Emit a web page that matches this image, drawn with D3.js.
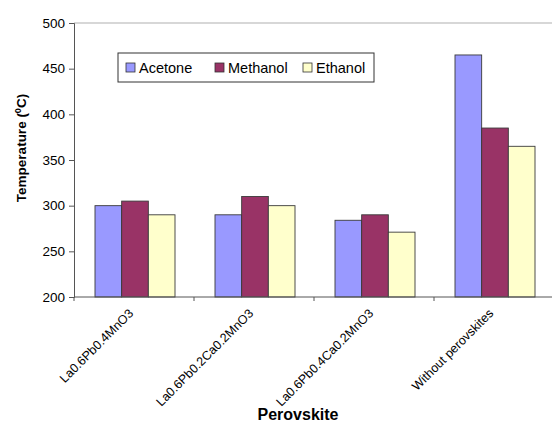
<!DOCTYPE html>
<html>
<head>
<meta charset="utf-8">
<script src="https://cdn.jsdelivr.net/npm/d3@7"></script>
<style>
  body { margin: 0; background: #fff; }
  text { font-family: "Liberation Sans", Arial, sans-serif; fill: #000; }
</style>
</head>
<body>
<script>
// values
let categories = ["La0.6Pb0.4MnO3", "La0.6Pb0.2Ca0.2MnO3", "La0.6Pb0.4Ca0.2MnO3", "Without perovskites"];
let seriesNames = ["Acetone", "Methanol", "Ethanol"];
let acetone = [300, 290, 284, 465];
let methanol = [305, 310, 290, 385];
let ethanol = [290, 300, 271, 365];
let yTicks = [200, 250, 300, 350, 400, 450, 500];
let colors = ["#9999ff", "#993366", "#ffffcc"];

let seriesValues = [acetone, methanol, ethanol];

let margin = null, width = null, height = null;
let svg = null;
let x0, x1, y = null;

setupCanvasSize();
appendSvg("body");
setupScales();
appendTopLine();
appendChartBars();
appendXAxis();
appendYAxis();
appendTitles();
appendLegend();

function setupCanvasSize() {
  margin = {top: 23, left: 74, bottom: 127, right: -2};
  width = 552 - margin.left - margin.right;
  height = 424 - margin.top - margin.bottom;
}

function appendSvg(domElement) {
  svg = d3.select(domElement).append("svg")
    .attr("width", 552)
    .attr("height", 424)
    .append("g")
    .attr("transform", `translate(${margin.left}, ${margin.top})`);
}

function setupScales() {
  x0 = d3.scaleBand().range([0, width]).domain(categories);
  x1 = d3.scaleBand().range([21, x0.bandwidth() - 19]).domain(seriesNames);
  y = d3.scaleLinear().range([height, 0]).domain([200, 500]);
}

function appendTopLine() {
  svg.append("line")
    .attr("x1", 0).attr("x2", width)
    .attr("y1", y(500)).attr("y2", y(500))
    .attr("stroke", "#b0b0b0").attr("stroke-width", 1.2);
}

function appendChartBars() {
  let groups = svg.selectAll(".group")
    .data(categories)
    .enter().append("g")
    .attr("class", "group")
    .attr("transform", d => `translate(${x0(d)}, 0)`);

  groups.selectAll("rect")
    .data((d, i) => seriesNames.map((s, j) => ({series: s, value: seriesValues[j][i], color: colors[j]})))
    .enter().append("rect")
    .attr("x", d => x1(d.series))
    .attr("y", d => y(d.value))
    .attr("width", x1.bandwidth())
    .attr("height", d => height - y(d.value))
    .attr("fill", d => d.color)
    .attr("stroke", "#3a3a3a")
    .attr("stroke-width", 0.9);
}

function appendXAxis() {
  let g = svg.append("g").attr("transform", `translate(0, ${height})`);
  g.append("line").attr("x1", 0).attr("x2", width).attr("stroke", "#555").attr("stroke-width", 1);
  g.selectAll(".btick")
    .data(categories)
    .enter().append("line")
    .attr("x1", d => x0(d)).attr("x2", d => x0(d))
    .attr("y1", 0).attr("y2", 4)
    .attr("stroke", "#555");

  // rotated category labels, ending just under each group centre
  g.selectAll(".clabel")
    .data(categories)
    .enter().append("text")
    .attr("transform", d => `translate(${x0(d) + x0.bandwidth() / 2 - 3}, 14) rotate(-45)`)
    .attr("text-anchor", "end")
    .attr("dy", "0.35em")
    .style("font-size", "12.5px")
    .text(d => d);
}

function appendYAxis() {
  let axis = svg.append("g")
    .call(d3.axisLeft(y).tickValues(yTicks).tickSize(5).tickPadding(4).tickFormat(d3.format("d")));
  axis.select(".domain").attr("stroke", "#555");
  axis.selectAll(".tick line").attr("stroke", "#555");
  axis.selectAll("text").style("font-size", "13.5px").style("font-family", "Liberation Sans, Arial, sans-serif");
}

function appendTitles() {
  let yt = svg.append("text")
    .attr("transform", `translate(-48, ${height / 2 - 12}) rotate(-90)`)
    .attr("text-anchor", "middle")
    .style("font-size", "13.5px")
    .style("font-weight", "bold");
  yt.append("tspan").text("Temperature  (");
  yt.append("tspan").attr("baseline-shift", "super").style("font-size", "9px").text("0");
  yt.append("tspan").text("C)");

  svg.append("text")
    .attr("x", width / 2 - 16)
    .attr("y", height + 123)
    .attr("text-anchor", "middle")
    .style("font-size", "16px")
    .style("font-weight", "bold")
    .text("Perovskite");
}

function appendLegend() {
  let lg = svg.append("g").attr("transform", "translate(44, 30)");
  lg.append("rect")
    .attr("width", 256).attr("height", 29)
    .attr("fill", "#fff").attr("stroke", "#333").attr("stroke-width", 1);

  let offsets = [8, 97, 185];
  let item = lg.selectAll(".legend")
    .data(seriesNames)
    .enter().append("g")
    .attr("class", "legend")
    .attr("transform", (d, i) => `translate(${offsets[i]}, 0)`);
  item.append("rect")
    .attr("y", 10).attr("width", 9).attr("height", 9)
    .attr("fill", (d, i) => colors[i])
    .attr("stroke", "#333").attr("stroke-width", 0.8);
  item.append("text")
    .attr("x", 13).attr("y", 15).attr("dy", "0.35em")
    .style("font-size", "14.5px")
    .text(d => d);
}
</script>
</body>
</html>
